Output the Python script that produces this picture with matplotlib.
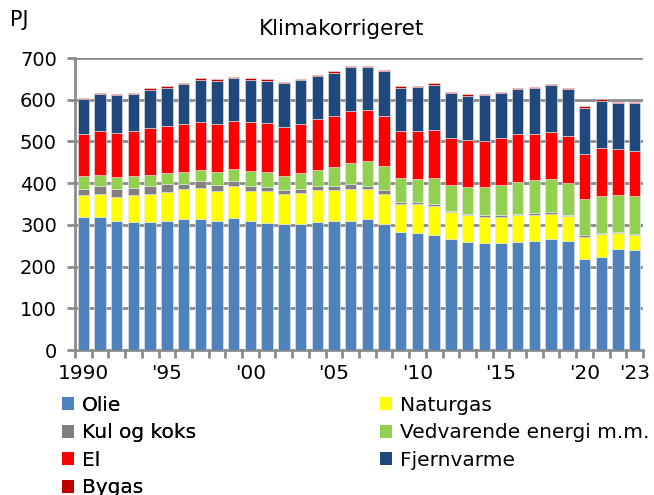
import matplotlib
matplotlib.use("Agg")
import matplotlib.pyplot as plt
import numpy as np
from matplotlib.patches import Patch

years = list(range(1990, 2024))
olie = [320, 320, 310, 308, 308, 310, 314, 314, 310, 317, 310, 305, 302, 302, 308, 310, 310, 313, 301, 283, 280, 276,
        265, 259, 256, 256, 259, 262, 265, 262, 219, 224, 243, 240]
naturgas = [51, 54, 57, 63, 66, 69, 72, 75, 72, 75, 72, 75, 72, 75, 75, 73, 77, 73, 73, 67, 69, 69,
            65, 65, 62, 63, 64, 62, 61, 59, 52, 53, 37, 35]
kul = [16, 18, 18, 18, 18, 18, 13, 15, 14, 12, 12, 11, 9, 10, 10, 9, 11, 8, 9, 5, 5, 5,
       4, 3, 5, 5, 4, 5, 5, 3, 5, 3, 3, 2]
vedvarende = [30, 28, 30, 28, 28, 28, 27, 28, 30, 31, 35, 35, 34, 37, 39, 47, 50, 59, 58, 57, 57, 63,
              62, 63, 68, 72, 75, 78, 80, 77, 85, 88, 88, 93]
el = [102, 105, 105, 109, 111, 112, 115, 114, 115, 115, 117, 117, 117, 117, 121, 121, 124, 122, 121, 114, 114, 114,
      112, 113, 110, 112, 115, 112, 111, 112, 108, 117, 111, 108]
fjernvarme = [82, 88, 91, 88, 93, 92, 96, 102, 105, 101, 101, 103, 105, 106, 104, 105, 106, 104, 106, 102, 105, 109,
              107, 107, 110, 107, 108, 109, 113, 112, 112, 113, 109, 113]
bygas = [3, 3, 3, 3, 3, 4, 3, 4, 3, 4, 4, 3, 3, 3, 3, 3, 3, 3, 3, 4, 4, 3,
         3, 3, 3, 3, 3, 3, 3, 3, 3, 3, 3, 3]

series = [
    ("Olie", olie, "#4F81BD"),
    ("Naturgas", naturgas, "#FFFF00"),
    ("Kul og koks", kul, "#808080"),
    ("Vedvarende energi m.m.", vedvarende, "#92D050"),
    ("El", el, "#FF0000"),
    ("Fjernvarme", fjernvarme, "#1F497D"),
    ("Bygas", bygas, "#C00000"),
]

plt.rcParams['font.family'] = ['Verdana', 'DejaVu Sans']
fig = plt.figure(figsize=(6.54, 4.95), dpi=100)
ax = fig.add_axes([75/654, 1-350/495, (643-75)/654, (350-58)/495])

x = np.arange(len(years))
bottom = np.zeros(len(years))
handles = {}
for name, vals, col in series:
    v = np.array(vals, dtype=float)
    ax.bar(x, v, bottom=bottom, width=0.68, color=col, edgecolor='#E8E8E8', linewidth=0.4, zorder=3)
    handles[name] = Patch(facecolor=col, edgecolor='none')
    bottom += v

gc = '#8C8C8C'
ax.set_xlim(-0.5, len(years) - 0.5)
ax.set_ylim(0, 700)
ax.set_yticks(range(0, 701, 100))
ax.yaxis.grid(True, color=gc, linewidth=2, zorder=0)
ax.set_axisbelow(True)
for s in ['top', 'right']:
    ax.spines[s].set_visible(False)
for s in ['left', 'bottom']:
    ax.spines[s].set_color(gc)
    ax.spines[s].set_linewidth(2)
ax.tick_params(axis='y', colors=gc, length=6, width=2, labelcolor='black', labelsize=14, pad=7)

lbl_idx = [0, 5, 10, 15, 20, 25, 30, 33]
lbls = ['1990', "'95", "'00", "'05", "'10", "'15", "'20", "'23"]
ax.set_xticks(lbl_idx)
ax.set_xticklabels(lbls)
ax.set_xticks(np.arange(-0.5, len(years), 1), minor=True)
ax.tick_params(axis='x', which='major', length=0, labelsize=14.5, pad=10)
ax.tick_params(axis='x', which='minor', length=6, width=2, colors=gc)

fig.text(10/654, 1-20/495, 'PJ', fontsize=15, va='center', ha='left')
fig.text(342/654, 1-29/495, 'Klimakorrigeret', fontsize=15.5, va='center', ha='center')

col1 = ["Olie", "Kul og koks", "El", "Bygas"]
col2 = ["Naturgas", "Vedvarende energi m.m.", "Fjernvarme"]
common = dict(loc='upper left', frameon=False, fontsize=14.5,
              handlelength=0.62, handleheight=0.62, handletextpad=0.35,
              labelspacing=0.42, borderaxespad=0, borderpad=0)
leg1 = fig.legend([handles[n] for n in col1], col1, bbox_to_anchor=(62/654, 1-396/495), **common)
fig.add_artist(leg1)
fig.legend([handles[n] for n in col2], col2, bbox_to_anchor=(380/654, 1-396/495), **common)

fig.savefig('out.png', dpi=100)
